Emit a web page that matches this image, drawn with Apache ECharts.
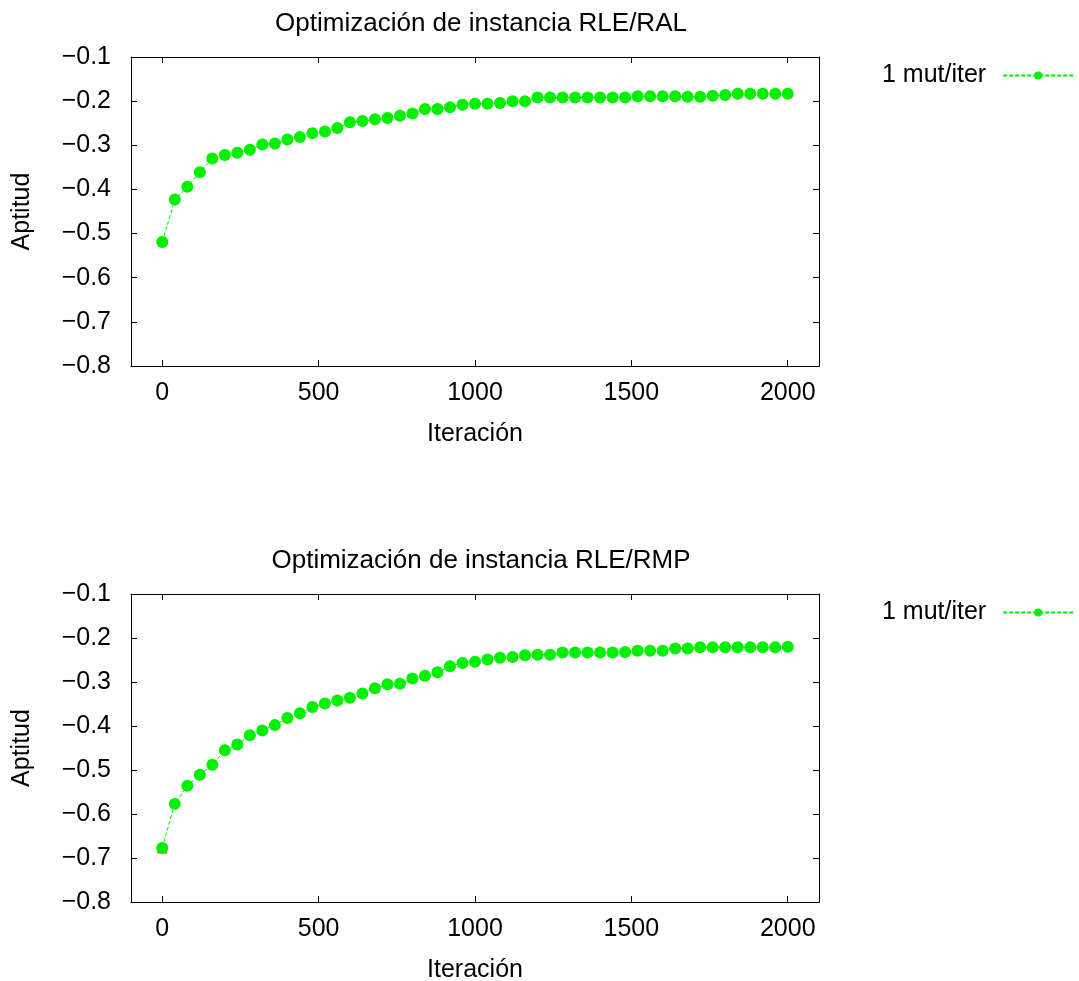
<!DOCTYPE html>
<html>
<head>
<meta charset="utf-8">
<script src="https://cdn.jsdelivr.net/npm/echarts@6/dist/echarts.min.js"></script>
<style>
html,body{margin:0;padding:0;background:#fff;}
#chart{width:1079px;height:981px;}
</style>
</head>
<body>
<div id="chart"></div>
<script>
const iterations = [0,40,80,120,160,200,240,280,320,360,400,440,480,520,560,600,640,680,720,760,800,840,880,920,960,1000,1040,1080,1120,1160,1200,1240,1280,1320,1360,1400,1440,1480,1520,1560,1600,1640,1680,1720,1760,1800,1840,1880,1920,1960,2000];
const ralValues = [-0.519,-0.423,-0.394,-0.361,-0.330,-0.322,-0.317,-0.310,-0.298,-0.296,-0.287,-0.281,-0.273,-0.269,-0.261,-0.248,-0.245,-0.241,-0.238,-0.233,-0.228,-0.218,-0.218,-0.214,-0.208,-0.206,-0.206,-0.204,-0.200,-0.200,-0.192,-0.192,-0.192,-0.192,-0.192,-0.192,-0.192,-0.192,-0.189,-0.189,-0.189,-0.189,-0.190,-0.190,-0.188,-0.186,-0.183,-0.183,-0.183,-0.183,-0.183];
const rmpValues = [-0.677,-0.577,-0.536,-0.511,-0.488,-0.455,-0.442,-0.421,-0.410,-0.398,-0.382,-0.371,-0.357,-0.349,-0.342,-0.336,-0.326,-0.314,-0.305,-0.304,-0.292,-0.286,-0.278,-0.264,-0.257,-0.254,-0.249,-0.245,-0.243,-0.239,-0.238,-0.238,-0.233,-0.233,-0.233,-0.233,-0.233,-0.232,-0.229,-0.229,-0.229,-0.224,-0.224,-0.221,-0.221,-0.221,-0.221,-0.221,-0.221,-0.221,-0.220];
const rmpRedPoint = [[0, -0.681]];
const xTickValues = [0, 500, 1000, 1500, 2000];
const titles = ['Optimización de instancia RLE/RAL', 'Optimización de instancia RLE/RMP'];
const seriesName = '1 mut/iter';
const xName = 'Iteración';
const yName = 'Aptitud';

const FONT = '"Liberation Sans", Arial, sans-serif';
const FS = 25;
const TFS = 26;
const GREEN = '#00f000';

function pairs(xs, ys){ return xs.map((x,i)=>[x, ys[i]]); }
function yFmt(v){ const r = Math.round(v*10)/10; return (r<0?'\u2212':'') + Math.abs(r).toFixed(1); }
function xFmt(v){ return String(Math.round(v)); }

const grids = [
  {left:131, right:260, top:57, height:309, outerBoundsMode:'none', containLabel:false},
  {left:131, right:260, top:594, height:308, outerBoundsMode:'none', containLabel:false}
];

const xAxes = [], yAxes = [];
[0,1].forEach(g=>{
  const axLine = {show:true, onZero:false, lineStyle:{color:'#000', width:1}};
  xAxes.push({
    gridIndex:g, type:'value', position:'bottom', min:-100, max:2100,
    axisLine:axLine, splitLine:{show:false},
    axisTick:{show:true, inside:true, length:6, customValues:xTickValues, lineStyle:{color:'#000'}},
    axisLabel:{show:true, customValues:xTickValues, formatter:xFmt, margin:15, color:'#000', fontSize:FS, fontFamily:FONT},
    name:xName, nameLocation:'middle', nameGap:56,
    nameTextStyle:{color:'#000', fontSize:FS, fontFamily:FONT}
  });
  xAxes.push({
    gridIndex:g, type:'value', position:'top', min:-100, max:2100,
    axisLine:axLine, splitLine:{show:false},
    axisTick:{show:true, inside:true, length:6, customValues:xTickValues, lineStyle:{color:'#000'}},
    axisLabel:{show:false}
  });
  yAxes.push({
    gridIndex:g, type:'value', position:'left', min:-0.8, max:-0.1, interval:0.1,
    axisLine:axLine, splitLine:{show:false},
    axisTick:{show:true, inside:true, length:6, lineStyle:{color:'#000'}},
    axisLabel:{show:true, formatter:yFmt, margin:20, color:'#000', fontSize:FS, fontFamily:FONT},
    name:yName, nameLocation:'middle', nameGap:96, nameRotate:90,
    nameTextStyle:{color:'#000', fontSize:FS, fontFamily:FONT}
  });
  yAxes.push({
    gridIndex:g, type:'value', position:'right', min:-0.8, max:-0.1, interval:0.1,
    axisLine:axLine, splitLine:{show:false},
    axisTick:{show:true, inside:true, length:6, lineStyle:{color:'#000'}},
    axisLabel:{show:false}
  });
});

function mainSeries(g, values){
  return {
    name:seriesName, type:'line', xAxisIndex:g*2, yAxisIndex:g*2,
    data:pairs(iterations, values),
    symbol:'circle', symbolSize:12, showSymbol:true,
    itemStyle:{color:GREEN},
    lineStyle:{color:GREEN, width:1, type:[4,2]},
    z:3, animation:false
  };
}

const option = {
  animation:false,
  backgroundColor:'#fff',
  title: titles.map((t,i)=>({
    text:t, left:476, textAlign:'center', top: i===0 ? 6 : 543,
    textStyle:{color:'#000', fontSize:TFS, fontWeight:'normal', fontFamily:FONT}
  })),
  grid: grids,
  xAxis: xAxes,
  yAxis: yAxes,
  legend: [0,1].map(g=>({
    show:true, left:882, top: g===0 ? 63 : 600, align:'right', padding:0,
    itemWidth:70, itemHeight:10, itemGap:0,
    data:[{name:seriesName}],
    textStyle:{color:'#000', fontSize:FS, fontFamily:FONT, padding:[0,12,0,0]}
  })),
  series: [
    mainSeries(0, ralValues),
    {
      name:'rmp-start', type:'scatter', xAxisIndex:2, yAxisIndex:2,
      data:rmpRedPoint, symbol:'rect', symbolSize:[10,8],
      itemStyle:{color:'#ff4000'}, z:2, silent:true
    },
    mainSeries(1, rmpValues)
  ]
};

const chart = echarts.init(document.getElementById('chart'), null, {renderer:'canvas'});
chart.setOption(option);
</script>
</body>
</html>
